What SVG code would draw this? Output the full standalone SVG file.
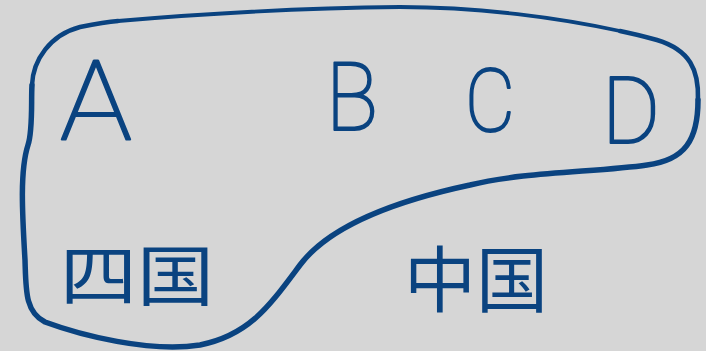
<svg xmlns="http://www.w3.org/2000/svg" width="706" height="351" viewBox="0 0 706 351">
  <style>
    .ink { fill: #0a4380; }
    .lat { font-family: Roboto, "Open Sans", "Liberation Sans", sans-serif; font-weight: 100; stroke: #0a4380; stroke-width: 2.2; stroke-linejoin: round; }
    .cjk { font-family: "Noto Sans CJK SC", "Noto Sans CJK JP", sans-serif; font-weight: 400; }
    .outline { fill: none; stroke: #0a4380; stroke-linecap: round; stroke-linejoin: round; }
  </style>
  <rect x="0" y="0" width="706" height="351" fill="#d6d6d6"/>
  <g id="connectors">
    <path class="outline" stroke-width="4.5" d="M 32,85 C 33,60 50,35 80,27 C 95,24 105,22 118,21"/>
    <path class="outline" stroke-width="3.8" d="M 118,21 C 200,14 300,8 400,7 C 480,7 560,18 620,31"/>
    <path class="outline" stroke-width="4.6" d="M 620,31 C 635,34 646,37 657,40 C 690,50 699,70 698,100"/>
    <path class="outline" stroke-width="5.5" d="M 698,100 C 698,140 685,160 647,165 C 600,172 520,172 470,185 C 400,200 330,225 300,265 C 270,305 250,335 200,345 C 150,353 80,335 45,322 C 25,312 26,290 25,260 C 22,210 20,170 28,145 C 33,130 31,100 32,85"/>
  </g>
  <g id="node-A"><text class="ink lat" x="60" y="140" font-size="112" textLength="72" lengthAdjust="spacingAndGlyphs">A</text></g>
  <g id="node-B"><text class="ink lat" x="326" y="130" font-size="94" textLength="52" lengthAdjust="spacingAndGlyphs">B</text></g>
  <g id="node-C"><text class="ink lat" x="465" y="131" font-size="87" textLength="50" lengthAdjust="spacingAndGlyphs">C</text></g>
  <g id="node-D"><text class="ink lat" x="602" y="143" font-size="93" textLength="58" lengthAdjust="spacingAndGlyphs">D</text></g>
  <g id="node-shikoku"><text class="cjk ink" x="60" y="300" font-size="66" textLength="154" lengthAdjust="spacingAndGlyphs">四国</text></g>
  <g id="node-chugoku"><text class="cjk ink" x="404" y="306" font-size="72" textLength="144" lengthAdjust="spacingAndGlyphs">中国</text></g>
</svg>
